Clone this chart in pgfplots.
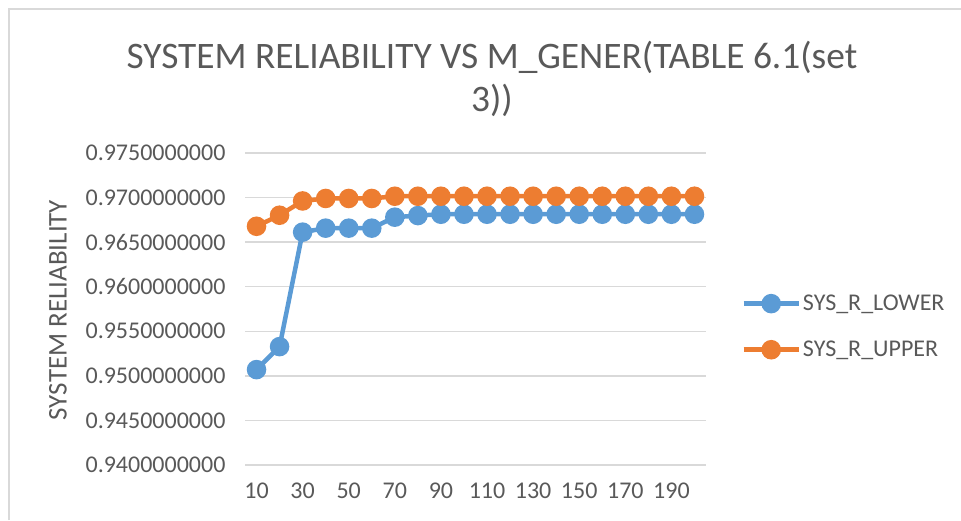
\documentclass[border=0pt]{standalone}
\usepackage{pgfplots}
\pgfplotsset{compat=1.18}
\usepackage{fontspec}
\setmainfont{Carlito}
\definecolor{txt}{HTML}{595959}
\definecolor{gridc}{HTML}{D9D9D9}
\definecolor{cblue}{HTML}{5B9BD5}
\definecolor{corange}{HTML}{ED7D31}
\begin{document}
\begin{tikzpicture}[x=1pt,y=1pt]
\useasboundingbox (0,0) rectangle (961,520);
\draw[gridc, line width=1.2pt] (9,0) -- (9,511) -- (961,511);
\node[txt, font=\fontsize{37.4}{44}\selectfont] at (492,463) {SYSTEM RELIABILITY VS M\_GENER(TABLE 6.1(set};
\node[txt, font=\fontsize{37.4}{44}\selectfont] at (492,420) {3))};
\node[txt, rotate=90, font=\fontsize{27}{32}\selectfont] at (58,310) {};
\node[txt, rotate=90, font=\fontsize{27}{32}\selectfont] at (58,210) {SYSTEM RELIABILITY};
\begin{axis}[
  at={(245pt,55pt)}, anchor=south west,
  scale only axis, width=461pt, height=312pt,
  xmin=5, xmax=205, ymin=0.940, ymax=0.975,
  axis line style={draw=none},
  xtick={10,30,...,190}, ytick={0.940,0.945,...,0.9751},
  major tick length=0pt,
  xmajorgrids=false, ymajorgrids=true,
  grid style={draw=gridc, line width=1.3pt},
  /pgf/number format/assume math mode=true,
  yticklabel style={/pgf/number format/fixed, /pgf/number format/fixed zerofill, /pgf/number format/precision=10, xshift=-16pt},
  ticklabel style={txt, font=\fontsize{24}{28}\selectfont},
  xticklabel style={yshift=-14pt},
  scaled y ticks=false,
  clip=false,
  legend style={at={(1.07,0.558)}, anchor=north west, draw=none, fill=none,
    font=\fontsize{24}{28}\selectfont, text=txt, row sep=25pt,
    /tikz/every even column/.append style={column sep=9pt}},
  legend cell align=left,
  legend image code/.code={
    \draw[line width=4.5pt] (0pt,0pt) -- (55pt,0pt);
    \fill (27.5pt,0pt) circle (7.5pt);
  },
]
\addplot[cblue, line width=4.5pt, mark=*, mark size=7.5pt] coordinates {
(10,0.9507) (20,0.95328) (30,0.96612) (40,0.96657) (50,0.96657) (60,0.96657)
(70,0.9678) (80,0.96798) (90,0.96813) (100,0.96813) (110,0.96813) (120,0.96813)
(130,0.96813) (140,0.96813) (150,0.96813) (160,0.96813) (170,0.96813) (180,0.96813)
(190,0.96813) (200,0.96813)};
\addlegendentry{SYS\_R\_LOWER}
\addplot[corange, line width=4.5pt, mark=*, mark size=7.5pt] coordinates {
(10,0.96678) (20,0.96802) (30,0.96962) (40,0.9699) (50,0.9699) (60,0.9699)
(70,0.97015) (80,0.97015) (90,0.97015) (100,0.97015) (110,0.97015) (120,0.97015)
(130,0.97015) (140,0.97015) (150,0.97015) (160,0.97015) (170,0.97015) (180,0.97015)
(190,0.97015) (200,0.97015)};
\addlegendentry{SYS\_R\_UPPER}
\end{axis}
\end{tikzpicture}
\end{document}
